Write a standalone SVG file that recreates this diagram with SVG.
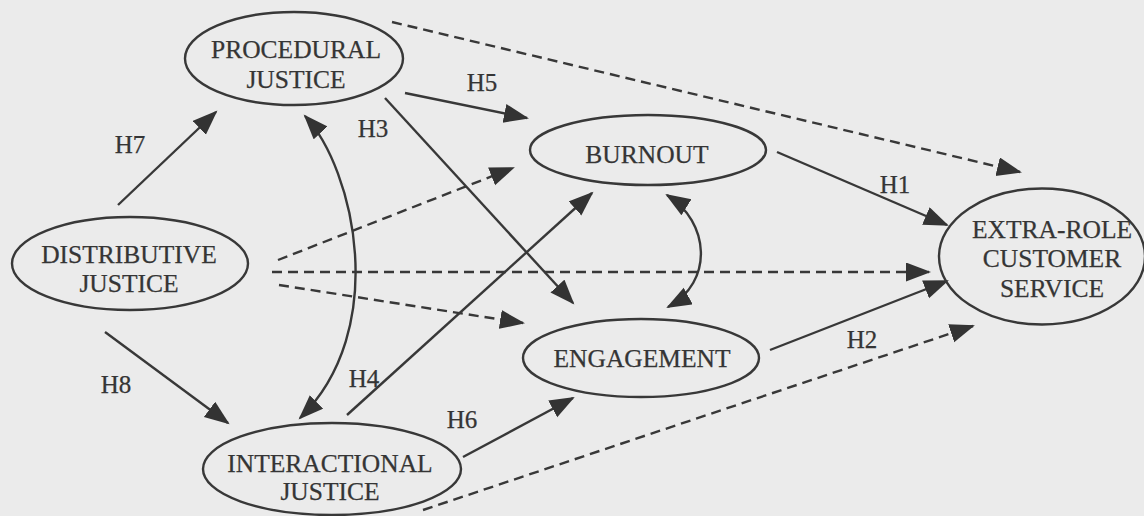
<svg xmlns="http://www.w3.org/2000/svg" width="1144" height="516" viewBox="0 0 1144 516">
<defs>
<style>
.node ellipse{fill:none;stroke:#383838;stroke-width:2.4}
text{font-family:"Liberation Serif","Times New Roman",serif;font-size:25.5px;fill:#353535;text-anchor:middle;stroke:#353535;stroke-width:0.25}
.lbl{font-size:25px}
.c{fill:none;stroke:#383838;stroke-width:2.4}
.s{marker-end:url(#ah)}
.d{stroke-dasharray:10 6;marker-end:url(#ah)}
.b{marker-start:url(#ah);marker-end:url(#ah)}
</style>
<marker id="ah" markerUnits="userSpaceOnUse" markerWidth="27" markerHeight="21" refX="23" refY="9.5" orient="auto-start-reverse">
<path d="M0,0 L25,9.5 L0,19 Z" fill="#333"/>
</marker>
</defs>
<rect width="1144" height="516" fill="#ebebeb"/>

<g id="connectors">
<path class="c s" d="M118,205 L216,112"/>
<path class="c b" d="M305,116 C355,170 390,330 300,418"/>
<path class="c s" d="M405,93 L527,118"/>
<path class="c d" d="M392,22 L1020,172"/>
<path class="c s" d="M385,98 L573,303"/>
<path class="c d" d="M278,260 L513,168"/>
<path class="c d" d="M272,272 L929,272"/>
<path class="c d" d="M279,285 L523,323"/>
<path class="c s" d="M105,332 L228,423"/>
<path class="c s" d="M347,415 L592,193"/>
<path class="c b" d="M667,195 C710,222 714,282 668,307"/>
<path class="c s" d="M463,457 L573,398"/>
<path class="c d" d="M423,510 L973,326"/>
<path class="c s" d="M777,152 L947,225"/>
<path class="c s" d="M770,350 L947,281"/>
</g>

<g id="labels">
<text class="lbl" x="130" y="153">H7</text>
<text class="lbl" x="373" y="137">H3</text>
<text class="lbl" x="482" y="91">H5</text>
<text class="lbl" x="116" y="393">H8</text>
<text class="lbl" x="364" y="387">H4</text>
<text class="lbl" x="462" y="428">H6</text>
<text class="lbl" x="895" y="193">H1</text>
<text class="lbl" x="862" y="348">H2</text>
</g>

<g id="procedural" class="node">
<ellipse cx="294" cy="58.5" rx="109" ry="46.5"/>
<text x="296" y="58">PROCEDURAL</text>
<text x="296" y="88">JUSTICE</text>
</g>

<g id="distributive" class="node">
<ellipse cx="130" cy="263.5" rx="118" ry="46.5"/>
<text x="129" y="263">DISTRIBUTIVE</text>
<text x="129" y="292">JUSTICE</text>
</g>

<g id="interactional" class="node">
<ellipse cx="332" cy="469" rx="129" ry="46"/>
<text x="330" y="472">INTERACTIONAL</text>
<text x="330" y="500">JUSTICE</text>
</g>

<g id="burnout" class="node">
<ellipse cx="648" cy="150" rx="118" ry="35"/>
<text x="647" y="163">BURNOUT</text>
</g>

<g id="engagement" class="node">
<ellipse cx="641" cy="358" rx="118" ry="39"/>
<text x="642" y="367">ENGAGEMENT</text>
</g>

<g id="extra-role" class="node">
<ellipse cx="1042" cy="256.5" rx="103" ry="68"/>
<text x="1052" y="238">EXTRA-ROLE</text>
<text x="1052" y="267">CUSTOMER</text>
<text x="1052" y="297">SERVICE</text>
</g>
</svg>
